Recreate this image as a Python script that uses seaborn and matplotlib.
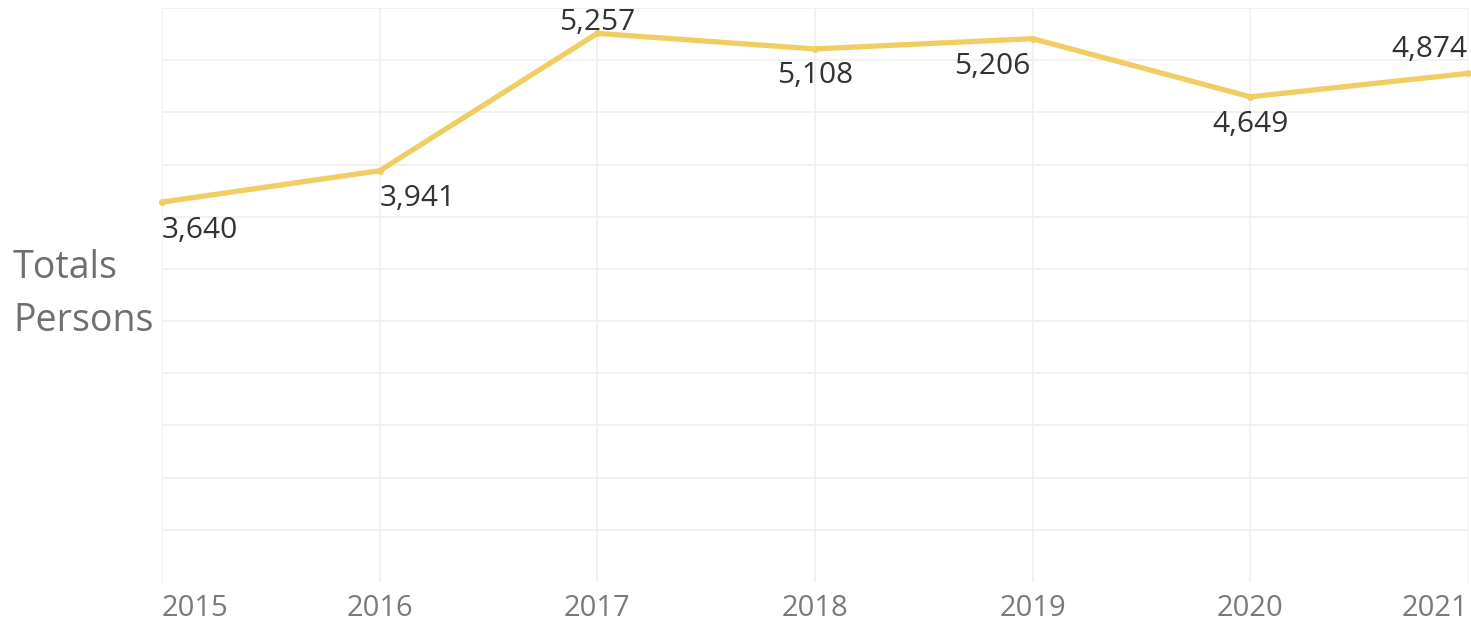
import matplotlib
matplotlib.use("Agg")
import matplotlib.pyplot as plt
import seaborn as sns
import pandas as pd

years = [2015, 2016, 2017, 2018, 2019, 2020, 2021]
totals = [3640, 3941, 5257, 5108, 5206, 4649, 4874]
year_labels = ["2015", "2016", "2017", "2018", "2019", "2020", "2021"]
y_label_lines = ["Totals", "Persons"]

sns.set_theme(style="white")
plt.rcParams['font.family'] = ['Open Sans', 'DejaVu Sans']

df = pd.DataFrame({"Year": years, "Totals": totals})

fig = plt.figure(figsize=(14.71, 6.24), dpi=100)
ax = fig.add_axes([162/1471, 1 - 582/624, (1468 - 162)/1471, (582 - 8)/624])

line_color = "#F1CE63"
sns.lineplot(data=df, x="Year", y="Totals", ax=ax, color=line_color,
             linewidth=3.8, marker="o", markersize=5, markeredgewidth=0,
             clip_on=False, zorder=3)

ax.set_xlim(2015, 2021)
ax.set_ylim(0, 5500)
ax.set_xticks(years)
ax.set_xticklabels(year_labels)
ax.set_yticks(list(range(500, 5501, 500)))
ax.set_yticklabels([])
ax.tick_params(axis="x", length=0, labelsize=21, colors="#7a7a7a", pad=9)
ax.tick_params(axis="y", length=0)
tls = ax.get_xticklabels()
tls[0].set_ha("left")
tls[-1].set_ha("right")
for t in tls[:1]:
    t.set_x(t.get_position()[0])
ax.grid(True, color="#efefef", linewidth=1.2)
for s in ax.spines.values():
    s.set_visible(False)
ax.set_xlabel("")
ax.set_ylabel("")

for i, txt in enumerate(y_label_lines):
    fig.text(13/1471, 1 - (268 + 53 * i)/624, txt, fontsize=27, color="#6f6f6f",
             ha="left", va="center")

# label placement: (dx px, dy px, ha)
placements = [(0, -28, "left"), (0, -28, "left"), (0, 11, "center"),
              (0, -27, "center"), (-2, -28, "right"), (0, -28, "center"),
              (0, 24, "right")]
for x, y, (dx, dy, ha) in zip(years, totals, placements):
    ax.annotate(f"{y:,}", (x, y), xytext=(dx, dy), textcoords="offset pixels",
                ha=ha, va="center", fontsize=21.5, color="#333333",
                annotation_clip=False, zorder=4)

fig.savefig("out.png", dpi=100)
